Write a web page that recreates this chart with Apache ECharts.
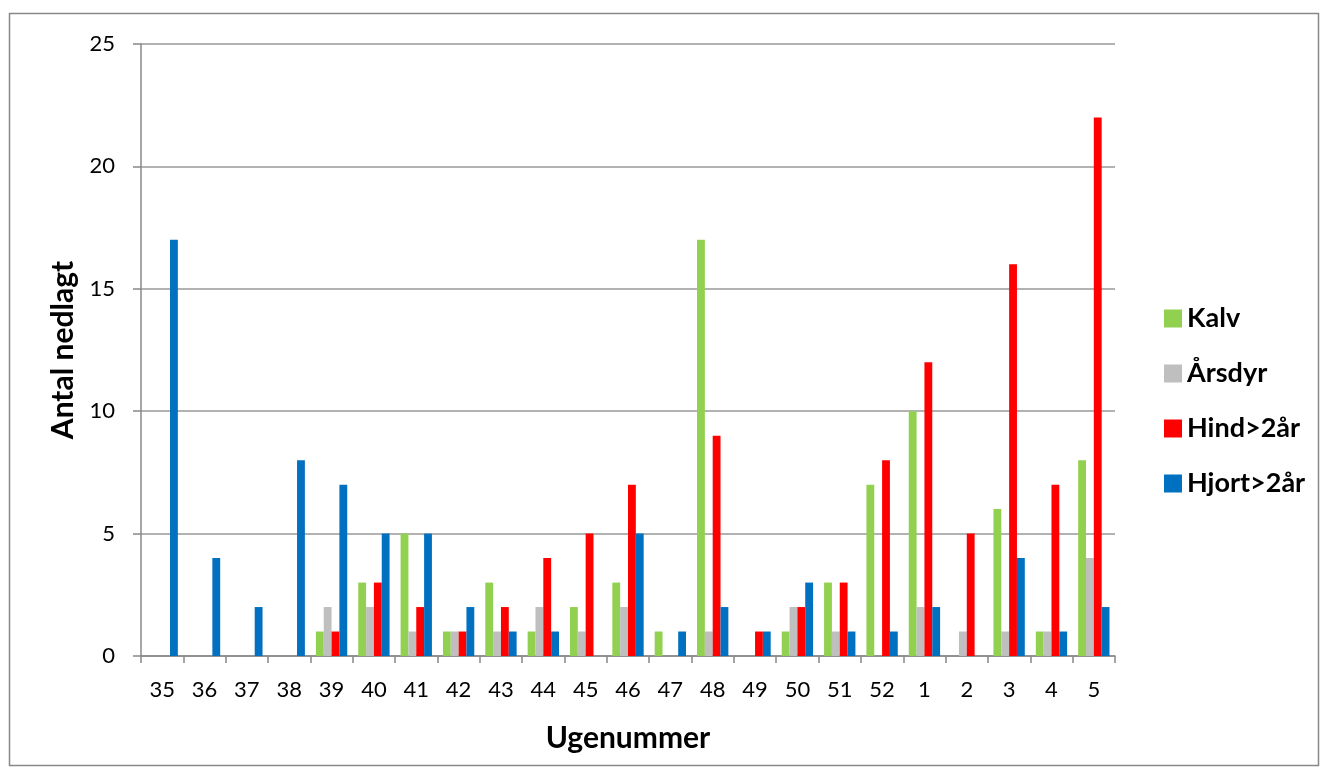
<!DOCTYPE html>
<html><head><meta charset="utf-8">
<script src="https://cdn.jsdelivr.net/npm/echarts@6/dist/echarts.min.js"></script>
<style>html,body{margin:0;padding:0;background:#fff}#c{width:1327px;height:778px}</style>
</head><body><div id="c"></div>
<script>
const weeks = ['35','36','37','38','39','40','41','42','43','44','45','46','47','48','49','50','51','52','1','2','3','4','5'];
const kalv   = [0,0,0,0,1,3,5,1,3,1,2,3,1,17,0,1,3,7,10,0,6,1,8];
const aarsdyr= [0,0,0,0,2,2,1,1,1,2,1,2,0,1,0,2,1,0,2,1,1,1,4];
const hind   = [0,0,0,0,1,3,2,1,2,4,5,7,0,9,1,2,3,8,12,5,16,7,22];
const hjort  = [17,4,2,8,7,5,5,2,1,1,0,5,1,2,1,3,1,1,2,0,4,1,2];
const yTicks = [0,5,10,15,20,25];

const font = 'Lato, "Open Sans", sans-serif';
const chart = echarts.init(document.getElementById('c'));
const mk = (name, data, color) => ({name, type:'bar', data, barGap:'0%', barCategoryGap:'26%', itemStyle:{color}});
chart.setOption({
  animation:false,
  textStyle:{fontFamily:font},
  graphic:[{type:'rect', shape:{x:9.5,y:13.5,width:1309,height:752}, style:{fill:'none', stroke:'#888', lineWidth:1.5}, silent:true}],
  grid:{left:141, right:212, top:44, bottom:122},
  legend:{orient:'vertical', left:1159, top:300, itemGap:28, itemWidth:18, itemHeight:18, icon:'rect',
    textStyle:{fontFamily:font, fontWeight:'bold', fontSize:27, color:'#000'},
    data:['Kalv','Årsdyr','Hind>2år','Hjort>2år']},
  xAxis:{type:'category', data:weeks, name:'Ugenummer', nameLocation:'middle', nameGap:67,
    nameTextStyle:{fontFamily:font, fontWeight:'bold', fontSize:30, color:'#000'},
    axisLine:{lineStyle:{color:'#888', width:1.5}},
    axisTick:{show:true, alignWithLabel:false, length:7, lineStyle:{color:'#888', width:1.5}},
    axisLabel:{fontSize:22, color:'#000', margin:23, fontFamily:font}},
  yAxis:{type:'value', min:0, max:25, interval:5, name:'Antal nedlagt', nameLocation:'middle', nameGap:55, nameRotate:90,
    nameTextStyle:{fontFamily:font, fontWeight:'bold', fontSize:30, color:'#000'},
    axisLine:{show:true, lineStyle:{color:'#888', width:1.5}},
    axisTick:{show:true, length:8, lineStyle:{color:'#888', width:1.5}},
    splitLine:{lineStyle:{color:'#999', width:1.5}},
    axisLabel:{fontSize:22, color:'#000', margin:26, fontFamily:font,
      formatter:v=> yTicks.includes(v)? String(v):''}},
  series:[mk('Kalv',kalv,'#92D050'), mk('Årsdyr',aarsdyr,'#BFBFBF'), mk('Hind>2år',hind,'#FF0000'), mk('Hjort>2år',hjort,'#0070C0')]
});
</script></body></html>
